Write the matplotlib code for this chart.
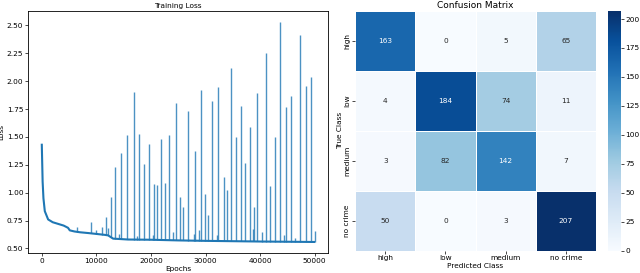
import matplotlib
matplotlib.use('Agg')
import matplotlib.pyplot as plt
import numpy as np
import seaborn as sns

# Curva base da perda
base_epochs = [0, 150, 300, 550, 1160, 2000, 3000, 4000, 4800, 5130, 6000, 7000,
               8500, 10000, 11500, 12150, 13065, 15800, 20000, 25000, 30000,
               35000, 40000, 45000, 49900]
base_loss = [1.43, 1.10, 0.95, 0.834, 0.76, 0.735, 0.72, 0.705, 0.685, 0.662, 0.652, 0.645,
             0.638, 0.63, 0.622, 0.617, 0.588, 0.58, 0.578, 0.572, 0.568,
             0.565, 0.562, 0.560, 0.558]

# Picos da perda
spike_epochs = [6430, 9007, 9860, 11080, 11764, 12060, 12683, 13480, 14090, 14521, 15624,
                16911, 17460, 17891, 18688, 19668, 20330, 20526, 21139, 21874, 22486,
                23344, 24070, 24631, 25366, 25917, 26836, 27870, 28061, 28780, 29165,
                29900, 30513, 31125, 32040, 32350, 33453, 33943, 34740, 35659, 36456,
                37252, 38171, 38650, 38906, 39519, 40430, 41051, 41848, 42644, 43686,
                44400, 44788, 45585, 46430, 47240, 48342, 49323, 50000]
spike_loss = [0.689, 0.74, 0.668, 0.69, 0.78, 0.683, 0.965, 1.23, 0.63, 1.36, 1.52,
              1.90, 0.61, 1.53, 1.26, 1.44, 0.62, 1.08, 1.07, 1.48, 1.09,
              1.52, 0.65, 1.80, 0.96, 0.875, 1.73, 0.632, 1.37, 0.668, 1.92,
              0.99, 0.80, 1.82, 0.62, 1.95, 1.14, 1.02, 2.12, 1.50, 1.78,
              1.27, 1.59, 0.677, 0.875, 1.89, 0.646, 2.25, 1.06, 1.50, 2.53,
              0.617, 1.77, 1.87, 0.59, 2.41, 1.96, 2.04, 0.66]

# Matriz de confusão
classes = ['high', 'low', 'medium', 'no crime']
cm = np.array([[163, 0, 5, 65],
               [4, 184, 74, 11],
               [3, 82, 142, 7],
               [50, 0, 3, 207]])

fs = 5.3
fig = plt.figure(figsize=(6.4, 2.73), dpi=100)
ax1 = fig.add_axes([0.044, 0.072, 0.469, 0.888])
ax2 = fig.add_axes([0.555, 0.082, 0.376, 0.878])
cax = fig.add_axes([0.950, 0.082, 0.020, 0.878])

color = '#1f77b4'
ax1.plot(base_epochs, base_loss, color=color, linewidth=1.5)
ymin = np.interp(spike_epochs, base_epochs, base_loss)
ax1.vlines(spike_epochs, ymin, spike_loss, color=color, linewidth=1.0, alpha=0.8)
ax1.set_xlim(-2500, 52500)
ax1.set_ylim(0.456, 2.63)
ax1.set_yticks([0.50, 0.75, 1.00, 1.25, 1.50, 1.75, 2.00, 2.25, 2.50])
ax1.set_yticklabels([f'{v:.2f}' for v in ax1.get_yticks()])
ax1.set_title('Training Loss', fontsize=fs, pad=2)
ax1.set_xlabel('Epochs', fontsize=fs, labelpad=1)
ax1.set_ylabel('Loss', fontsize=fs)
ax1.yaxis.set_label_coords(-0.078, 0.5)
ax1.tick_params(labelsize=fs, length=2, width=0.5, pad=1.5)
for s in ax1.spines.values():
    s.set_linewidth(0.6)

sns.heatmap(cm, annot=True, fmt='d', cmap='Blues', xticklabels=classes,
            yticklabels=classes, linewidths=0.5, linecolor='white',
            ax=ax2, cbar_ax=cax, annot_kws={'fontsize': fs})
ax2.set_title('Confusion Matrix', fontsize=6.5, pad=2)
ax2.set_xlabel('Predicted Class', fontsize=fs, labelpad=1)
ax2.set_ylabel('True Class', fontsize=fs, labelpad=1)
ax2.tick_params(labelsize=fs, length=2, width=0.5, pad=1.5)
plt.setp(ax2.get_yticklabels(), rotation=90, va='center')
cax.tick_params(labelsize=fs, length=2, width=0.5, pad=1.5)
cax.set_yticks([0, 25, 50, 75, 100, 125, 150, 175, 200])

plt.savefig('out.png', dpi=100)
